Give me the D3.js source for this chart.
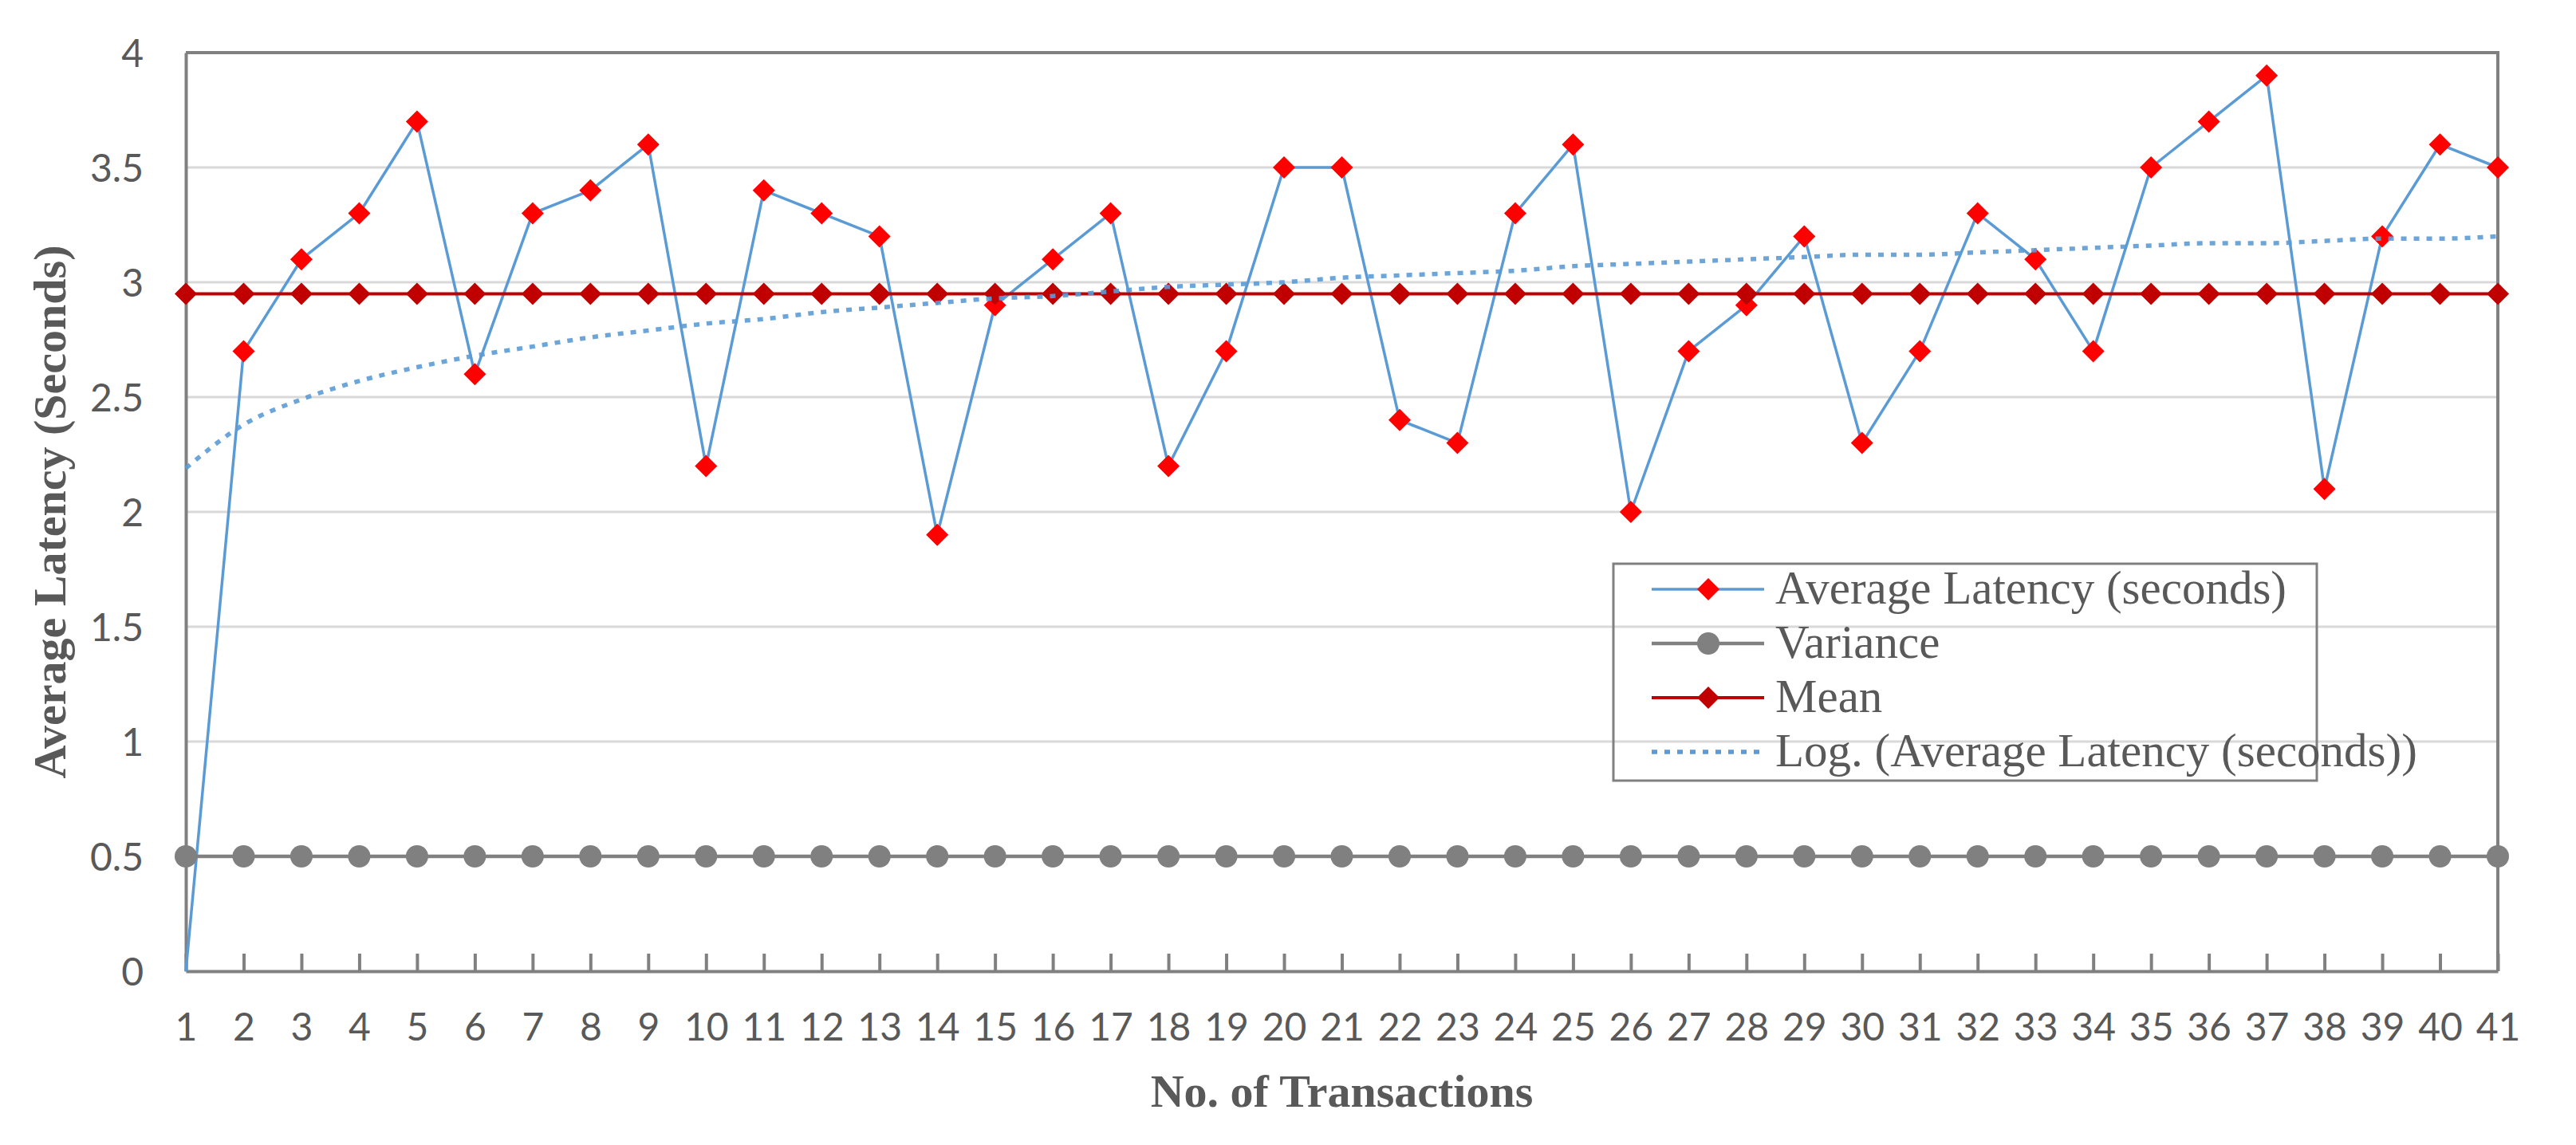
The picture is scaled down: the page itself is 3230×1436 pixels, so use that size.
<!DOCTYPE html>
<html>
<head>
<meta charset="utf-8">
<script src="https://cdn.jsdelivr.net/npm/d3@7"></script>
<style>
  html, body { margin: 0; padding: 0; background: #ffffff; }
  svg { display: block; }
</style>
</head>
<body>
<script>
// ---------------- DATA ----------------
const categories = [1,2,3,4,5,6,7,8,9,10,11,12,13,14,15,16,17,18,19,20,21,22,23,24,25,26,27,28,29,30,31,32,33,34,35,36,37,38,39,40,41];

const avgLatency = [0,2.7,3.1,3.3,3.7,2.6,3.3,3.4,3.6,2.2,3.4,3.3,3.2,1.9,2.9,3.1,3.3,2.2,2.7,3.5,3.5,2.4,2.3,3.3,3.6,2.0,2.7,2.9,3.2,2.3,2.7,3.3,3.1,2.7,3.5,3.7,3.9,2.1,3.2,3.6,3.5];

const varianceVals = [0.5,0.5,0.5,0.5,0.5,0.5,0.5,0.5,0.5,0.5,0.5,0.5,0.5,0.5,0.5,0.5,0.5,0.5,0.5,0.5,0.5,0.5,0.5,0.5,0.5,0.5,0.5,0.5,0.5,0.5,0.5,0.5,0.5,0.5,0.5,0.5,0.5,0.5,0.5,0.5,0.5];

const meanVals = [2.95,2.95,2.95,2.95,2.95,2.95,2.95,2.95,2.95,2.95,2.95,2.95,2.95,2.95,2.95,2.95,2.95,2.95,2.95,2.95,2.95,2.95,2.95,2.95,2.95,2.95,2.95,2.95,2.95,2.95,2.95,2.95,2.95,2.95,2.95,2.95,2.95,2.95,2.95,2.95,2.95];

const logTrend = [2.19,2.38,2.49,2.57,2.63,2.68,2.72,2.76,2.79,2.82,2.84,2.87,2.89,2.91,2.93,2.94,2.96,2.98,2.99,3.00,3.02,3.03,3.04,3.05,3.07,3.08,3.09,3.10,3.11,3.12,3.12,3.13,3.14,3.15,3.16,3.17,3.17,3.18,3.19,3.19,3.20];

const yTickValues = [0,0.5,1,1.5,2,2.5,3,3.5,4];
const yTickLabels = ["0","0.5","1","1.5","2","2.5","3","3.5","4"];
const xTickLabels = categories.map(String);

const seriesNames = ["Average Latency (seconds)", "Variance", "Mean", "Log. (Average Latency (seconds))"];
const xTitle = "No. of Transactions";
const yTitle = "Average Latency (Seconds)";

// ---------------- STYLE ----------------
const W = 3230, H = 1436;
const plot = { left: 233, right: 3132, top: 66, bottom: 1218 };
const C = {
  axis: "#808080", grid: "#d9d9d9", text: "#595959",
  blue: "#5b9bd5", red: "#ff0000", dark: "#c00000", gray: "#808080"
};
const tickFont = "Lato, 'Open Sans', 'Liberation Sans', sans-serif";
const serif = "'Liberation Serif', 'Times New Roman', serif";

const svg = d3.select("body").append("svg")
  .attr("width", W).attr("height", H)
  .attr("viewBox", `0 0 ${W} ${H}`);
svg.append("rect").attr("width", W).attr("height", H).attr("fill", "#ffffff");

const x = d3.scaleLinear().domain([1, 41]).range([plot.left, plot.right]);
const y = d3.scaleLinear().domain([0, 4]).range([plot.bottom, plot.top]);

// gridlines
svg.append("g").selectAll("line")
  .data(yTickValues.filter(v => v > 0 && v < 4))
  .join("line")
  .attr("x1", plot.left).attr("x2", plot.right)
  .attr("y1", d => y(d)).attr("y2", d => y(d))
  .attr("stroke", C.grid).attr("stroke-width", 3);

// frame (top and right)
svg.append("path")
  .attr("d", `M${x(1)},${y(4)}H${x(41)}V${y(0)}`)
  .attr("fill", "none").attr("stroke", C.axis).attr("stroke-width", 4);

// Y axis
const yAxis = d3.axisLeft(y).tickValues(yTickValues)
  .tickFormat((d, i) => yTickLabels[i]).tickSize(0).tickPadding(53);
const gy = svg.append("g").attr("transform", `translate(${plot.left},0)`).call(yAxis);
gy.select(".domain").attr("stroke", C.axis).attr("stroke-width", 4);
gy.selectAll("text").attr("font-family", tickFont).attr("font-size", 48)
  .attr("fill", C.text).attr("dy", "0.36em");

// X axis
const xAxis = d3.axisBottom(x).tickValues(categories)
  .tickFormat((d, i) => xTickLabels[i]).tickSizeInner(-22).tickSizeOuter(0).tickPadding(0);
const gx = svg.append("g").attr("transform", `translate(0,${plot.bottom})`).call(xAxis);
gx.select(".domain").attr("stroke", C.axis).attr("stroke-width", 4);
gx.selectAll(".tick line").attr("stroke", C.axis).attr("stroke-width", 4);
gx.selectAll("text").attr("font-family", tickFont).attr("font-size", 48)
  .attr("fill", C.text).attr("dy", null).attr("y", 87);

// symbols
const diamond = d3.symbol().type(d3.symbolSquare).size(392)();
const circle = d3.symbol().type(d3.symbolCircle).size(Math.PI * 14 * 14)();

const avgData = categories.map((c, i) => ({ c, v: avgLatency[i] }));
const varData = categories.map((c, i) => ({ c, v: varianceVals[i] }));
const meanData = categories.map((c, i) => ({ c, v: meanVals[i] }));
const trendData = categories.map((c, i) => ({ c, v: logTrend[i] }));

const line = d3.line().x(d => x(d.c)).y(d => y(d.v));

// Average latency
svg.append("path").datum(avgData).attr("d", line)
  .attr("fill", "none").attr("stroke", C.blue).attr("stroke-width", 3.5)
  .attr("stroke-linejoin", "round");
svg.append("g").selectAll("path").data(avgData.filter(d => d.v > 0)).join("path")
  .attr("d", diamond)
  .attr("transform", d => `translate(${x(d.c)},${y(d.v)}) rotate(45)`)
  .attr("fill", C.red);

// Variance
svg.append("path").datum(varData).attr("d", line)
  .attr("fill", "none").attr("stroke", C.gray).attr("stroke-width", 4.5);
svg.append("g").selectAll("path").data(varData).join("path")
  .attr("d", circle)
  .attr("transform", d => `translate(${x(d.c)},${y(d.v)})`)
  .attr("fill", C.gray);

// Mean
svg.append("path").datum(meanData).attr("d", line)
  .attr("fill", "none").attr("stroke", C.dark).attr("stroke-width", 4);
svg.append("g").selectAll("path").data(meanData).join("path")
  .attr("d", diamond)
  .attr("transform", d => `translate(${x(d.c)},${y(d.v)}) rotate(45)`)
  .attr("fill", C.dark);

// Log trendline
svg.append("path").datum(trendData).attr("d", d3.line().curve(d3.curveMonotoneX).x(d => x(d.c)).y(d => y(d.v)))
  .attr("fill", "none").attr("stroke", C.blue).attr("stroke-width", 5.5)
  .attr("stroke-dasharray", "7,9").attr("opacity", 0.9);

// Axis titles
svg.append("text").text(xTitle)
  .attr("x", (plot.left + plot.right) / 2).attr("y", 1388)
  .attr("text-anchor", "middle")
  .attr("font-family", serif).attr("font-weight", "bold").attr("font-size", 58)
  .attr("fill", C.text);
svg.append("text").text(yTitle)
  .attr("transform", `translate(82,${(plot.top + plot.bottom) / 2}) rotate(-90)`)
  .attr("text-anchor", "middle")
  .attr("font-family", serif).attr("font-weight", "bold").attr("font-size", 58)
  .attr("fill", C.text);

// Legend
const lg = svg.append("g");
lg.append("rect").attr("x", 2023).attr("y", 707).attr("width", 882).attr("height", 272)
  .attr("fill", "none").attr("stroke", C.axis).attr("stroke-width", 3);
const legendItems = [
  { name: seriesNames[0], stroke: C.blue, sw: 3.5, marker: "diamond", mfill: C.red },
  { name: seriesNames[1], stroke: C.gray, sw: 4.5, marker: "circle", mfill: C.gray },
  { name: seriesNames[2], stroke: C.dark, sw: 4, marker: "diamond", mfill: C.dark },
  { name: seriesNames[3], stroke: C.blue, sw: 5.5, marker: null, dash: "7,9" }
];
const rows = lg.selectAll("g.row").data(legendItems).join("g")
  .attr("transform", (d, i) => `translate(0,${757 + i * 68})`);
rows.append("line").attr("x1", 2071).attr("x2", 2212).attr("y1", -18).attr("y2", -18)
  .attr("stroke", d => d.stroke).attr("stroke-width", d => d.sw)
  .attr("stroke-dasharray", d => d.dash || null);
rows.filter(d => d.marker).append("path")
  .attr("d", d => d.marker === "diamond" ? diamond : circle)
  .attr("transform", d => `translate(2142,-18)` + (d.marker === "diamond" ? " rotate(45)" : ""))
  .attr("fill", d => d.mfill);
rows.append("text").text(d => d.name)
  .attr("x", 2226).attr("y", 0)
  .attr("font-family", serif).attr("font-size", 59)
  .attr("fill", C.text);
</script>
</body>
</html>
